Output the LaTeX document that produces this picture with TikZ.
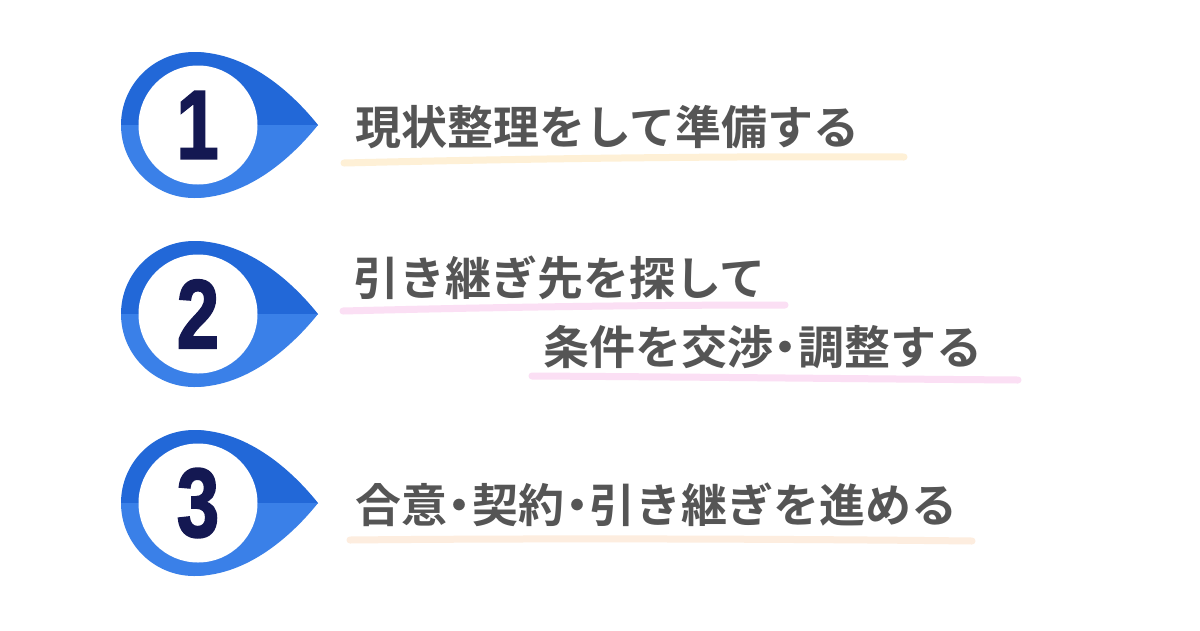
\documentclass[tikz,border=0pt]{standalone}
\usepackage{fontspec}
\newfontfamily\jpfont{Noto Sans CJK JP}[BoldFont={Noto Sans CJK JP Bold}]
\newfontfamily\digitfont{Liberation Sans}[BoldFeatures={FakeBold=2}]
\definecolor{bluetop}{HTML}{2268D8}
\definecolor{bluebot}{HTML}{3A80E8}
\definecolor{navy}{HTML}{141852}
\definecolor{txtgray}{HTML}{555555}
\definecolor{creamline}{HTML}{FEF0D6}
\definecolor{pinkline}{HTML}{FBDFF4}
\definecolor{peachline}{HTML}{FDEDDF}
\tikzset{
  steptext/.style={anchor=base west, inner sep=0pt, text=txtgray, font=\jpfont\bfseries\fontsize{46}{50}\selectfont},
  digit/.style={inner sep=0pt, text=navy, font=\digitfont\bfseries\fontsize{98}{100}\selectfont},
  brush/.style={line width=7pt, line cap=round}
}
\newcommand{\halfdot}{\makebox[0.55em][c]{・}}
\newcommand{\dropfill}[3]{%
  \fill[#3] (#1,#2) circle[radius=73];
  \fill[#3] (#1,#2-73) .. controls (#1+55,#2-73) and (#1+100,#2-30) .. (#1+124,#2)
            .. controls (#1+100,#2+30) and (#1+55,#2+73) .. (#1,#2+73) -- cycle;}
\newcommand{\badge}[2]{%
  \begin{scope}
    \clip (#1-80,#2-90) rectangle (#1+130,#2);
    \dropfill{#1}{#2}{bluetop}
  \end{scope}
  \begin{scope}
    \clip (#1-80,#2) rectangle (#1+130,#2+90);
    \dropfill{#1}{#2}{bluebot}
  \end{scope}
  \fill[white] (#1+4,#2) circle[radius=59.5];
}
\begin{document}
\begin{tikzpicture}[x=1pt,y=-1pt]
\useasboundingbox (0,0) rectangle (1200,630);
\fill[white] (0,0) rectangle (1200,630);

% badges
\badge{194}{125}
\badge{194}{314}
\badge{194}{503}
\node[digit] (n1) at (197.5,125) {\scalebox{0.78}[1]{1}};
\node[digit] (n2) at (198,314) {\scalebox{0.78}[1]{2}};
\node[digit] (n3) at (198,503) {\scalebox{0.78}[1]{3}};

% underlines
\draw[brush, creamline] (344,163) .. controls (550,158) and (750,156) .. (904,157);
\draw[brush, pinkline] (343,311) .. controls (500,307) and (650,305) .. (785,305);
\draw[brush, pinkline] (532,376) .. controls (700,377) and (880,379) .. (1018,380);
\draw[brush, peachline] (350,540) .. controls (550,538) and (800,539) .. (972,541);

% texts
\node[steptext] (t1) at (355,144) {現状整理をして準備する};
\node[steptext] (t2a) at (353,295) {引き継ぎ先を探して};
\node[steptext] (t2b) at (543,364) {条件を交渉\halfdot 調整する};
\node[steptext] (t3) at (355,522) {合意\halfdot 契約\halfdot 引き継ぎを進める};
\end{tikzpicture}
\end{document}
